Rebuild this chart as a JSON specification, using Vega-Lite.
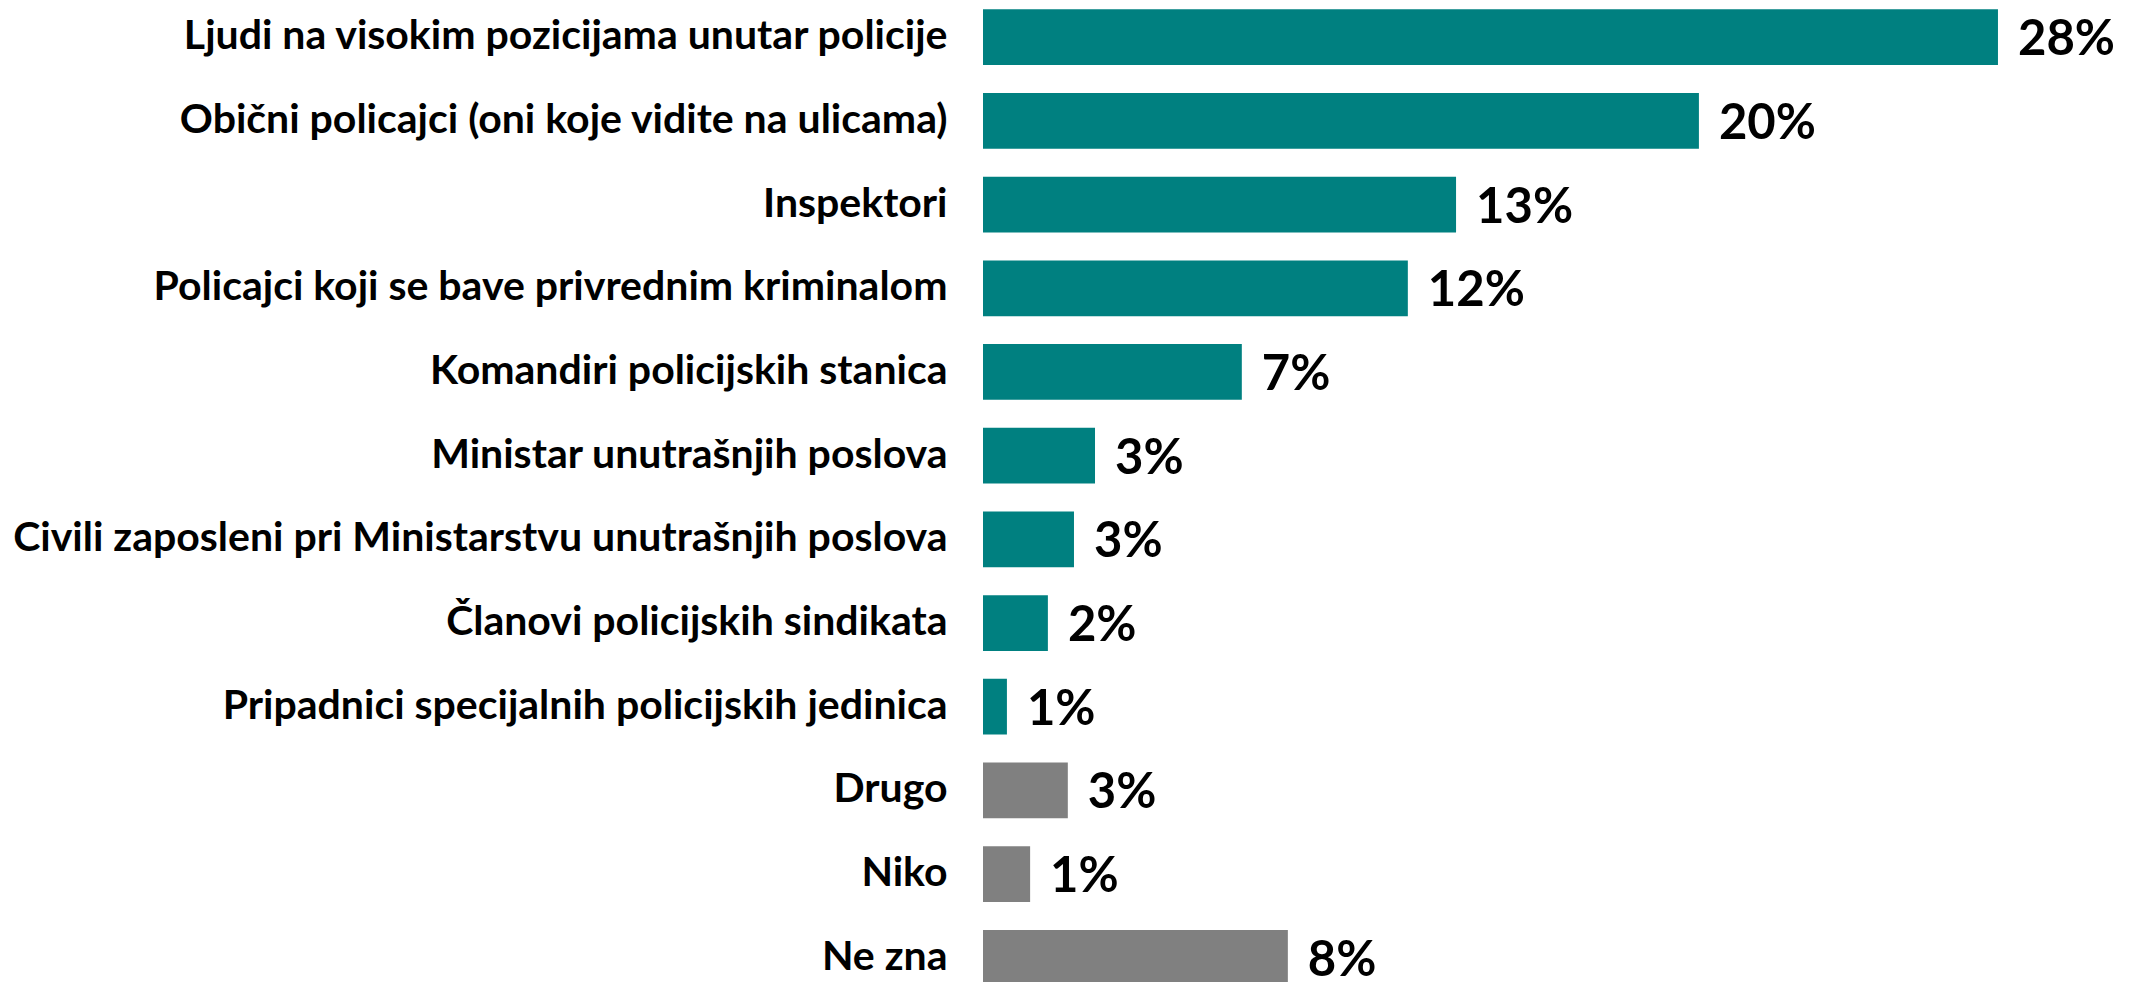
{
  "$schema": "https://vega.github.io/schema/vega-lite/v6.json",
  "autosize": {"type": "none"},
  "padding": {"left": 983, "top": 0, "right": 0, "bottom": 0},
  "width": 1148,
  "height": 982,
  "background": "white",
  "config": {"view": {"stroke": null}},
  "data": {
    "values": [
      {"kategorija": "Ljudi na visokim pozicijama unutar policije", "vrijednost": 28.0, "oznaka": "28%", "grupa": "policija"},
      {"kategorija": "Obični policajci (oni koje vidite na ulicama)", "vrijednost": 19.75, "oznaka": "20%", "grupa": "policija"},
      {"kategorija": "Inspektori", "vrijednost": 13.05, "oznaka": "13%", "grupa": "policija"},
      {"kategorija": "Policajci koji se bave privrednim kriminalom", "vrijednost": 11.72, "oznaka": "12%", "grupa": "policija"},
      {"kategorija": "Komandiri policijskih stanica", "vrijednost": 7.14, "oznaka": "7%", "grupa": "policija"},
      {"kategorija": "Ministar unutrašnjih poslova", "vrijednost": 3.09, "oznaka": "3%", "grupa": "policija"},
      {"kategorija": "Civili zaposleni pri Ministarstvu unutrašnjih poslova", "vrijednost": 2.51, "oznaka": "3%", "grupa": "policija"},
      {"kategorija": "Članovi policijskih sindikata", "vrijednost": 1.79, "oznaka": "2%", "grupa": "policija"},
      {"kategorija": "Pripadnici specijalnih policijskih jedinica", "vrijednost": 0.66, "oznaka": "1%", "grupa": "policija"},
      {"kategorija": "Drugo", "vrijednost": 2.34, "oznaka": "3%", "grupa": "ostalo"},
      {"kategorija": "Niko", "vrijednost": 1.30, "oznaka": "1%", "grupa": "ostalo"},
      {"kategorija": "Ne zna", "vrijednost": 8.41, "oznaka": "8%", "grupa": "ostalo"}
    ]
  },
  "encoding": {
    "y": {
      "field": "kategorija",
      "type": "nominal",
      "sort": null,
      "scale": {"range": [0, 995], "paddingInner": 0.334, "paddingOuter": 0.111},
      "axis": {
        "title": null,
        "domain": false,
        "ticks": false,
        "grid": false,
        "labelPadding": 36,
        "labelLimit": 2000,
        "labelFont": "Lato",
        "labelFontWeight": "bold",
        "labelFontSize": 41,
        "labelColor": "#000000"
      }
    },
    "x": {
      "field": "vrijednost",
      "type": "quantitative",
      "scale": {"domain": [0, 31.67], "nice": false},
      "axis": null
    }
  },
  "layer": [
    {
      "mark": {"type": "bar"},
      "encoding": {
        "color": {
          "field": "grupa",
          "type": "nominal",
          "scale": {"domain": ["policija", "ostalo"], "range": ["#008080", "#808080"]},
          "legend": null
        }
      }
    },
    {
      "mark": {
        "type": "text",
        "align": "left",
        "baseline": "middle",
        "dx": 20,
        "dy": 3,
        "font": "Lato",
        "fontWeight": "bold",
        "fontSize": 49,
        "color": "#000000"
      },
      "encoding": {
        "text": {"field": "oznaka", "type": "nominal"}
      }
    }
  ]
}
